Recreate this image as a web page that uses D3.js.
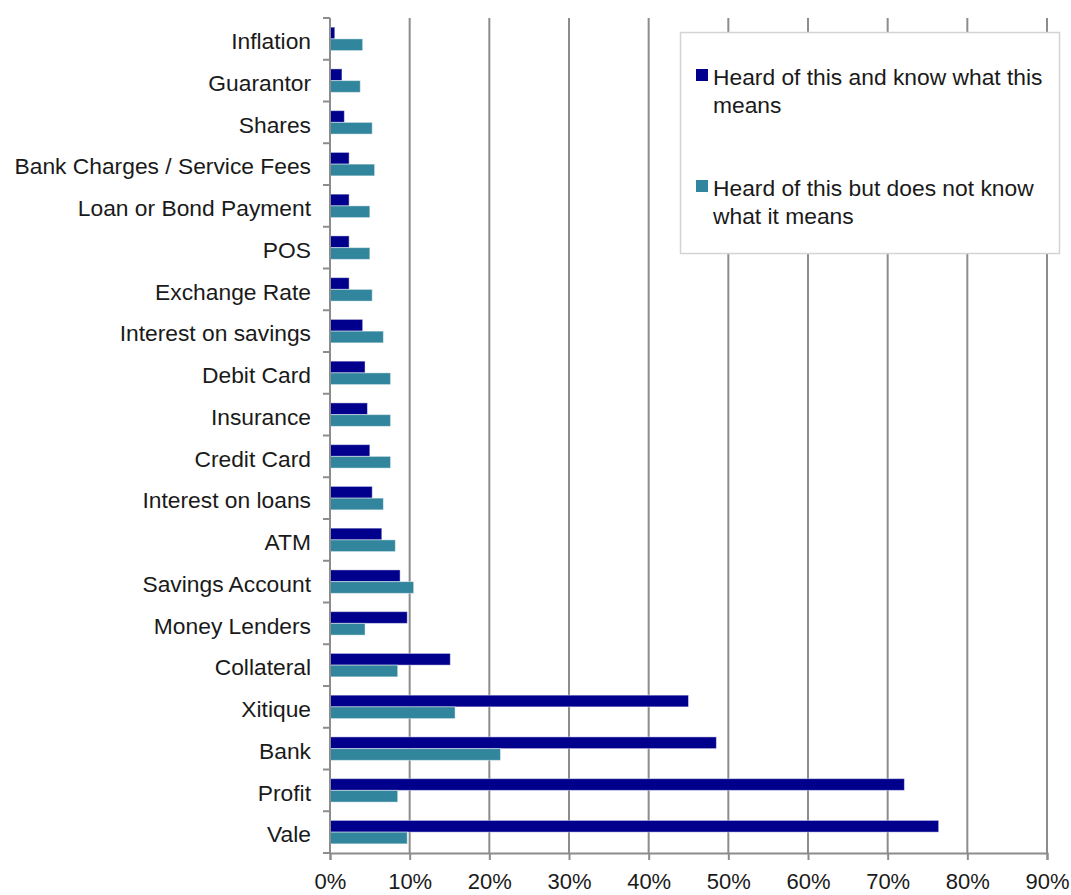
<!DOCTYPE html>
<html>
<head>
<meta charset="utf-8">
<script src="https://cdn.jsdelivr.net/npm/d3@7"></script>
<style>
  html, body { margin: 0; padding: 0; background: #fff; }
  svg text { font-family: "Liberation Sans", Arial, sans-serif; fill: #1a1a1a; }
</style>
</head>
<body>
<svg id="chart" width="1071" height="895"></svg>
<script>
// Financial terms, top to bottom
const categories = [
  "Inflation", "Guarantor", "Shares", "Bank Charges / Service Fees",
  "Loan or Bond Payment", "POS", "Exchange Rate", "Interest on savings",
  "Debit Card", "Insurance", "Credit Card", "Interest on loans", "ATM",
  "Savings Account", "Money Lenders", "Collateral", "Xitique", "Bank",
  "Profit", "Vale"
];

// Share of respondents (%) per term
const knowMeaning = [
  0.6, 1.5, 1.8, 2.4, 2.4, 2.4, 2.4, 4.1, 4.4, 4.7,
  5.0, 5.3, 6.5, 8.8, 9.7, 15.1, 45.0, 48.5, 72.1, 76.4
];
const notKnowMeaning = [
  4.1, 3.8, 5.3, 5.6, 5.0, 5.0, 5.3, 6.7, 7.6, 7.6,
  7.6, 6.7, 8.2, 10.5, 4.4, 8.5, 15.7, 21.4, 8.5, 9.7
];

const seriesNames = [
  "Heard of this and know what this means",
  "Heard of this but does not know what it means"
];
const seriesColors = ["#00008c", "#31859c"];
const xTicks = [0, 10, 20, 30, 40, 50, 60, 70, 80, 90];

const FONT = 22.8;
const svg = d3.select("#chart");
const margin = { left: 330, right: 24, top: 18, bottom: 42 };
const W = 1071, H = 895;

const x = d3.scaleLinear().domain([0, 90]).range([margin.left, W - margin.right]);
const y = d3.scaleBand().domain(categories).range([margin.top, H - margin.bottom])
  .paddingInner(0).paddingOuter(0);
const inner = d3.scaleBand().domain([0, 1])
  .range([0, y.bandwidth()]).paddingOuter(0.78).paddingInner(0);

// vertical gridlines
svg.append("g")
  .selectAll("line")
  .data(xTicks.slice(1))
  .join("line")
  .attr("x1", d => x(d)).attr("x2", d => x(d))
  .attr("y1", margin.top).attr("y2", H - margin.bottom)
  .attr("stroke", "#8c8c8c").attr("stroke-width", 2);

// bars
const rows = categories.map((c, i) => ({ c, v: [knowMeaning[i], notKnowMeaning[i]] }));
const groups = svg.append("g").selectAll("g")
  .data(rows).join("g")
  .attr("transform", d => `translate(0,${y(d.c)})`);
groups.selectAll("rect")
  .data(d => d.v.map((v, k) => ({ v, k })))
  .join("rect")
  .attr("x", x(0))
  .attr("y", d => inner(d.k))
  .attr("width", d => x(d.v) - x(0))
  .attr("height", inner.bandwidth())
  .attr("fill", d => seriesColors[d.k])
  .attr("stroke", "rgba(255,255,255,0.45)")
  .attr("stroke-width", 1);

// y axis with outward ticks at band boundaries
const yAxisG = svg.append("g");
yAxisG.append("line")
  .attr("x1", x(0)).attr("x2", x(0))
  .attr("y1", margin.top).attr("y2", H - margin.bottom)
  .attr("stroke", "#8c8c8c").attr("stroke-width", 2);
const bounds = categories.map(c => y(c)).concat([y(categories[categories.length - 1]) + y.bandwidth()]);
yAxisG.selectAll("line.tick")
  .data(bounds).join("line").attr("class", "tick")
  .attr("x1", x(0) - 7).attr("x2", x(0))
  .attr("y1", d => d).attr("y2", d => d)
  .attr("stroke", "#8c8c8c").attr("stroke-width", 2);
yAxisG.selectAll("text")
  .data(categories).join("text")
  .attr("x", x(0) - 19)
  .attr("y", d => y(d) + y.bandwidth() / 2)
  .attr("dy", "0.45em")
  .attr("text-anchor", "end")
  .attr("font-size", FONT)
  .text(d => d);

// x axis
const xAxisG = svg.append("g")
  .attr("transform", `translate(0,${H - margin.bottom})`)
  .call(d3.axisBottom(x).tickValues(xTicks).tickSize(7).tickFormat(d => d + "%"));
xAxisG.select(".domain").attr("stroke", "#8c8c8c").attr("stroke-width", 2);
xAxisG.selectAll(".tick line").attr("stroke", "#8c8c8c").attr("stroke-width", 2);
xAxisG.selectAll(".tick text")
  .attr("font-size", 22).attr("dy", 0).attr("y", 36)
  .attr("fill", "#1a1a1a").style("font-family", '"Liberation Sans", Arial, sans-serif');

// legend
const lg = svg.append("g");
lg.append("rect")
  .attr("x", 680.5).attr("y", 32.5).attr("width", 379).attr("height", 221)
  .attr("fill", "#fff").attr("stroke", "#d4d4d4").attr("stroke-width", 1.5);
const legendLines = [
  ["Heard of this and know what this", "means"],
  ["Heard of this but does not know", "what it means"]
];
const legendTop = [85, 196];
legendLines.forEach((lines, k) => {
  lg.append("rect")
    .attr("x", 696).attr("y", legendTop[k] - 16).attr("width", 12).attr("height", 12)
    .attr("fill", seriesColors[k]);
  const t = lg.append("text")
    .attr("x", 713).attr("y", legendTop[k]).attr("font-size", FONT);
  lines.forEach((ln, j) => {
    t.append("tspan").attr("x", 713).attr("y", legendTop[k] + j * 27.5).text(ln);
  });
});
</script>
</body>
</html>
